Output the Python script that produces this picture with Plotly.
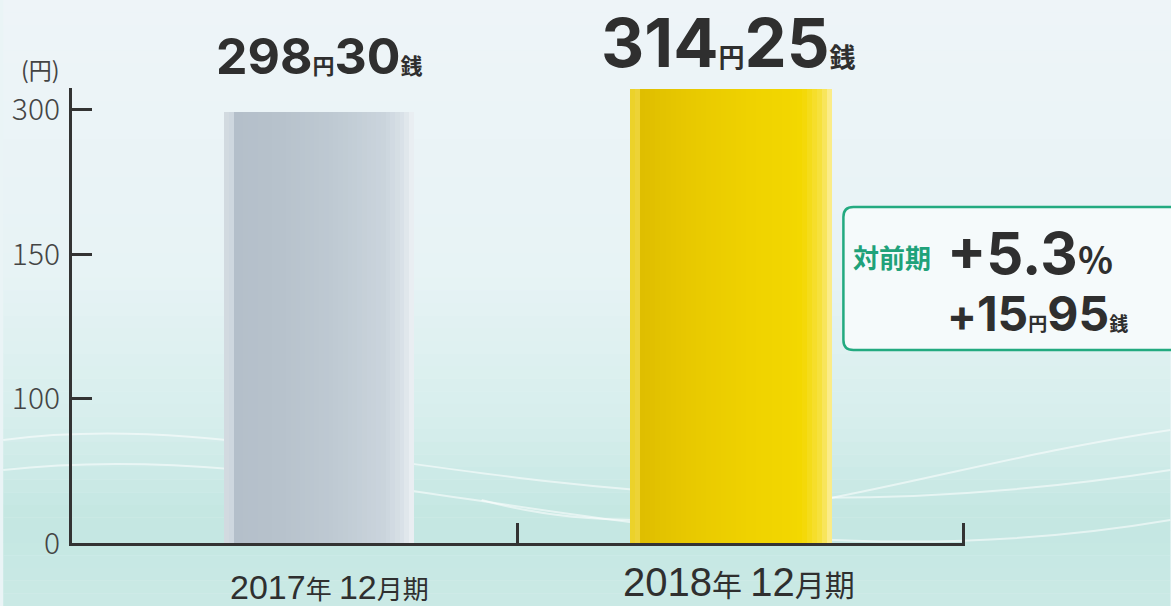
import re
import numpy as np
import plotly.graph_objects as go

# ---------------- data ----------------
categories = ["2017年 12月期", "2018年 12月期"]
values = [298.30, 314.25]               # 円 (yen with sen)
y_tickvals = [0, 100, 200, 300]
y_ticktext = ["0", "100", "150", "300"]
y_unit = "(円)"
compare_label = "対前期"

# derived change
diff = values[1] - values[0]
pct = diff / values[0] * 100

# ---------------- layout constants ----------------
W_PX, H_PX = 1171, 606
M_L, M_R, M_T, M_B = 69, 206, 88, 63
PW = W_PX - M_L - M_R
PH = H_PX - M_T - M_B

def px_x(px):
    return (px - M_L) / PW

def px_y(py):
    return (H_PX - M_B - py) / PH

FONT = "Liberation Sans, Noto Sans CJK JP, sans-serif"
BOLD = "Inter, Liberation Sans, Noto Sans CJK JP, sans-serif"
DARK = "#2f2f2f"

bar_left = [-0.158, -0.248]     # left edge of each bar (category units)
bar_width = [0.425, 0.453]

# horizontal shading stops across the bar width (cylinder look)
shade = [
    (0.00, "#c6cfd7", "#e4c400"),
    (0.025, "#dde4ea", "#f5df55"),
    (0.06, "#b4bfca", "#dfbe00"),
    (0.30, "#b7c2cc", "#e8c900"),
    (0.60, "#bfcad3", "#efd200"),
    (0.85, "#cbd5dd", "#f3d800"),
    (0.95, "#dbe3e9", "#f7e245"),
    (1.00, "#eef2f5", "#fcef9e"),
]

def hex2rgb(h):
    h = h.lstrip("#")
    return np.array([int(h[i:i + 2], 16) for i in (0, 2, 4)], dtype=float)

def interp(stops, t, idx):
    for j in range(len(stops) - 1):
        a, b = stops[j], stops[j + 1]
        if a[0] <= t <= b[0]:
            f = (t - a[0]) / (b[0] - a[0]) if b[0] > a[0] else 0
            c = hex2rgb(a[idx]) * (1 - f) + hex2rgb(b[idx]) * f
            return "rgb(%d,%d,%d)" % tuple(np.round(c).astype(int))
    return stops[-1][idx]

fig = go.Figure()

NS = 40
for i in range(NS):
    s, e = i / NS, (i + 1) / NS
    t = (s + e) / 2
    fig.add_trace(go.Bar(
        x=categories, y=values,
        width=[w * (e - s) * 1.02 for w in bar_width],
        offset=[l + w * s for l, w in zip(bar_left, bar_width)],
        marker=dict(color=[interp(shade, t, 1), interp(shade, t, 2)], line=dict(width=0)),
        hoverinfo="skip", showlegend=False,
    ))

# ---------------- background gradient ----------------
shapes = []
top_p, bot_p = px_y(0), px_y(H_PX)
left_p, right_p = px_x(0), px_x(W_PX)
stops = [(0.0, (238, 244, 248)), (0.45, (231, 243, 245)),
         (0.7, (214, 238, 236)), (0.85, (196, 231, 226)), (1.0, (202, 233, 229))]
N = 48
for i in range(N):
    t = (i + 0.5) / N
    for j in range(len(stops) - 1):
        if stops[j][0] <= t <= stops[j + 1][0]:
            a, b = stops[j], stops[j + 1]
            f = (t - a[0]) / (b[0] - a[0])
            col = tuple(int(round(a[1][k] + (b[1][k] - a[1][k]) * f)) for k in range(3))
            break
    y0 = top_p + (bot_p - top_p) * i / N
    y1 = top_p + (bot_p - top_p) * (i + 1) / N
    shapes.append(dict(type="rect", xref="paper", yref="paper", x0=left_p, x1=right_p,
                       y0=y1, y1=y0 + 0.0005, fillcolor="rgb(%d,%d,%d)" % col,
                       line=dict(width=0), layer="below"))

# soft white waves
waves = [
    "M %f,%f C %f,%f %f,%f %f,%f" % (px_x(0), px_y(440), px_x(300), px_y(400), px_x(600), px_y(560), px_x(1171), px_y(470)),
    "M %f,%f C %f,%f %f,%f %f,%f" % (px_x(0), px_y(470), px_x(350), px_y(430), px_x(700), px_y(600), px_x(1171), px_y(520)),
    "M %f,%f C %f,%f %f,%f %f,%f" % (px_x(480), px_y(500), px_x(700), px_y(560), px_x(900), px_y(470), px_x(1171), px_y(430)),
]
for p in waves:
    shapes.append(dict(type="path", xref="paper", yref="paper", path=p,
                       line=dict(color="rgba(255,255,255,0.55)", width=2), layer="below"))

# callout box (rounded rectangle)
bx0, bx1 = px_x(843), px_x(1185)
by0, by1 = px_y(350), px_y(207)
rx, ry = 10 / PW, 10 / PH
box_path = (f"M {bx0+rx},{by1} L {bx1-rx},{by1} Q {bx1},{by1} {bx1},{by1-ry} "
            f"L {bx1},{by0+ry} Q {bx1},{by0} {bx1-rx},{by0} L {bx0+rx},{by0} "
            f"Q {bx0},{by0} {bx0},{by0+ry} L {bx0},{by1-ry} Q {bx0},{by1} {bx0+rx},{by1} Z")
shapes.append(dict(type="path", xref="paper", yref="paper", path=box_path,
                   fillcolor="rgba(246,250,251,0.95)", line=dict(color="#23aa80", width=2.5),
                   layer="above"))

# ---------------- annotations ----------------
def money(v, dsize, csize):
    yen = int(v)
    sen = int(round((v - yen) * 100))
    return (f"<b><span style='font-size:{dsize}px'>{yen}</span>"
            f"<span style='font-size:{csize}px'>円</span>"
            f"<span style='font-size:{dsize}px'>{sen:02d}</span>"
            f"<span style='font-size:{csize}px'>銭</span></b>")

def styled(s, dsize, csize):
    parts = re.findall(r"\d+|\D+", s)
    return "".join(f"<span style='font-size:{dsize if p.isdigit() else csize}px'>{p}</span>" for p in parts)

annotations = []
val_fmt = [(50, 22, 25, 24), (67, 26, -12, 4)]
for cat, v, (d, c, xs, ys) in zip(categories, values, val_fmt):
    annotations.append(dict(x=cat, y=v, xref="x", yref="y", text=money(v, d, c),
                            showarrow=False, xanchor="center", yanchor="bottom", xshift=xs, yshift=ys,
                            font=dict(family=BOLD, color=DARK, size=d)))

cat_fmt = [(34, 26, 35, -44), (40, 30, -2, -39)]
for cat, (d, c, xs, ys) in zip(categories, cat_fmt):
    annotations.append(dict(x=cat, y=0, xref="x", yref="y", text=styled(cat, d, c),
                            showarrow=False, xanchor="center", yanchor="middle", xshift=xs, yshift=ys,
                            borderpad=0, font=dict(family=FONT, color=DARK, size=d)))

annotations.append(dict(x=px_x(37), y=px_y(69), xref="paper", yref="paper", text=y_unit,
                        xanchor="center", yanchor="middle",
                        showarrow=False, font=dict(family="Noto Sans CJK JP", color="#444", size=23)))

annotations.append(dict(x=px_x(851), y=px_y(256), xref="paper", yref="paper",
                        xanchor="left", yanchor="middle",
                        text=f"<b>{compare_label}</b>", showarrow=False,
                        font=dict(family="Noto Sans CJK JP", color="#1fa27a", size=26)))

change_text = (f"<b><span style='font-size:58px'>+{pct:.1f}</span>"
               f"<span style='font-size:36px'>％</span></b><br>"
               f"<b>+</b>" + money(diff, 48, 19))
annotations.append(dict(x=px_x(945), y=px_y(280), xref="paper", yref="paper",
                        xanchor="left", yanchor="middle", align="left",
                        text=change_text,
                        showarrow=False, font=dict(family=BOLD, color=DARK, size=44)))

fig.update_layout(
    width=W_PX, height=H_PX,
    margin=dict(l=M_L, r=M_R, t=M_T, b=M_B),
    paper_bgcolor="#eaf4f6", plot_bgcolor="rgba(0,0,0,0)",
    barmode="overlay", bargap=0,
    shapes=shapes, annotations=annotations,
    font=dict(family=FONT, color=DARK),
    xaxis=dict(type="category", range=[-0.5, 1.503], showgrid=False, zeroline=False,
               showline=True, linecolor="#333", linewidth=3,
               ticks="inside", tickson="boundaries", ticklen=20, tickwidth=2.5,
               tickcolor="#333", showticklabels=False, fixedrange=True),
    yaxis=dict(range=[0, 315], showgrid=False, zeroline=False,
               showline=True, linecolor="#333", linewidth=3,
               ticks="inside", ticklen=20, tickwidth=2.5, tickcolor="#333",
               tickvals=y_tickvals, ticktext=y_ticktext, ticklabelstandoff=3,
               tickfont=dict(family="Noto Sans CJK JP", size=30, color="#444", weight=300),
               fixedrange=True),
)

fig.write_html("out.html")
